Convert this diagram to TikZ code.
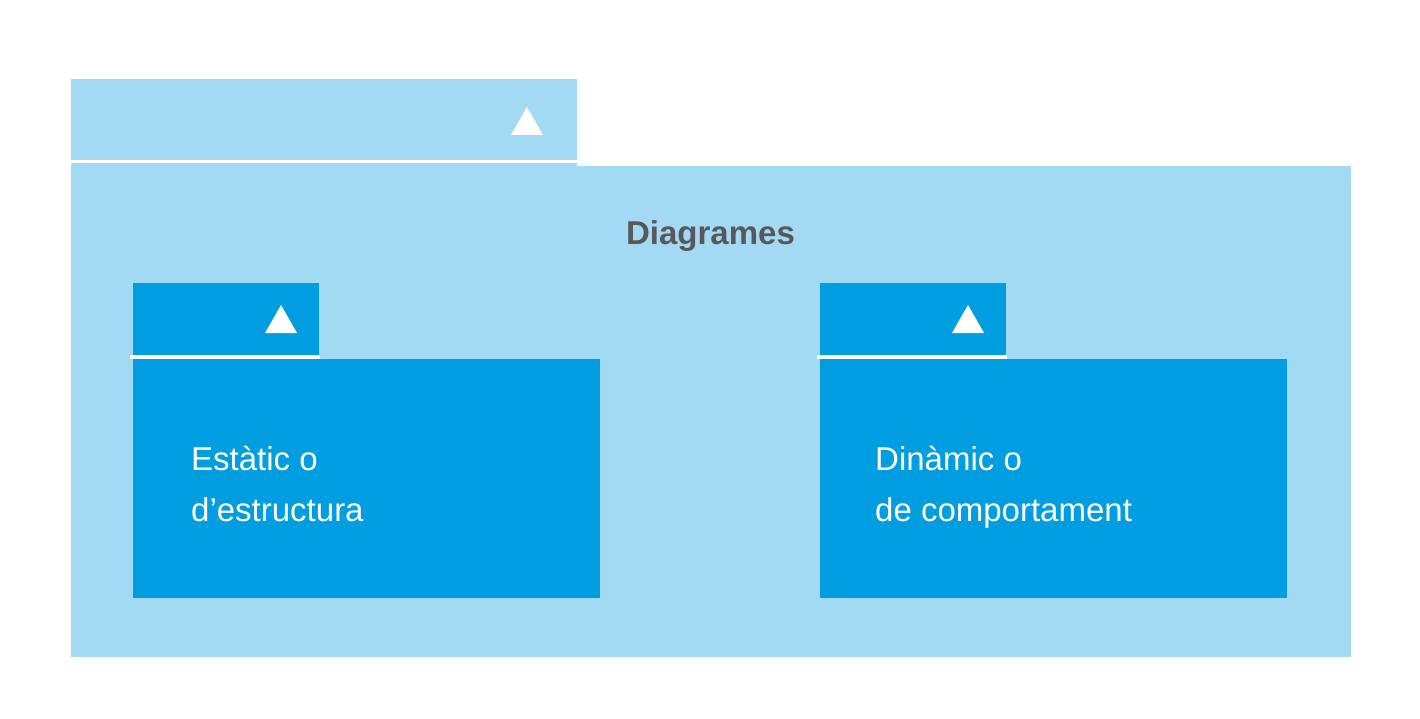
\documentclass[tikz,border=0pt]{standalone}
\usepackage{fontspec}
\setmainfont{Liberation Sans}
\definecolor{lightpkg}{HTML}{A2DAF4}
\definecolor{darkpkg}{HTML}{009EE0}
\definecolor{titlegray}{HTML}{58585A}
\begin{document}
\begin{tikzpicture}[x=1pt,y=-1pt,
  sepline/.style={draw=white,line width=3.2pt},
  tri/.style={fill=white},
  lbl/.style={text=white,font=\fontsize{33}{38}\selectfont,anchor=base west,inner sep=0pt}]
\useasboundingbox (0,0) rectangle (1420,719);
% outer package
\fill[lightpkg] (71,79) rectangle (577,166);
\fill[lightpkg] (71,166) rectangle (1351,657);
\draw[sepline] (71,161.5) -- (580,161.5);
\fill[tri] (511,135) -- (543,135) -- (527,107) -- cycle;
\node[text=titlegray,font=\bfseries\fontsize{33}{38}\selectfont,anchor=base,inner sep=0pt] (title) at (710.5,244) {Diagrames};
% left inner package
\fill[darkpkg] (133,283) rectangle (319,359);
\fill[darkpkg] (133,359) rectangle (600,598);
\draw[sepline] (130,357) -- (320,357);
\fill[tri] (265,333) -- (297,333) -- (281,305) -- cycle;
\node[lbl] (l1) at (191,470) {Estàtic o};
\node[lbl] (l2) at (191,521) {d’estructura};
% right inner package
\fill[darkpkg] (820,283) rectangle (1006,359);
\fill[darkpkg] (820,359) rectangle (1287,598);
\draw[sepline] (817,357) -- (1007,357);
\fill[tri] (952,333) -- (984,333) -- (968,305) -- cycle;
\node[lbl] (r1) at (875,470) {Dinàmic o};
\node[lbl] (r2) at (875,521) {de comportament};
\end{tikzpicture}
\end{document}
